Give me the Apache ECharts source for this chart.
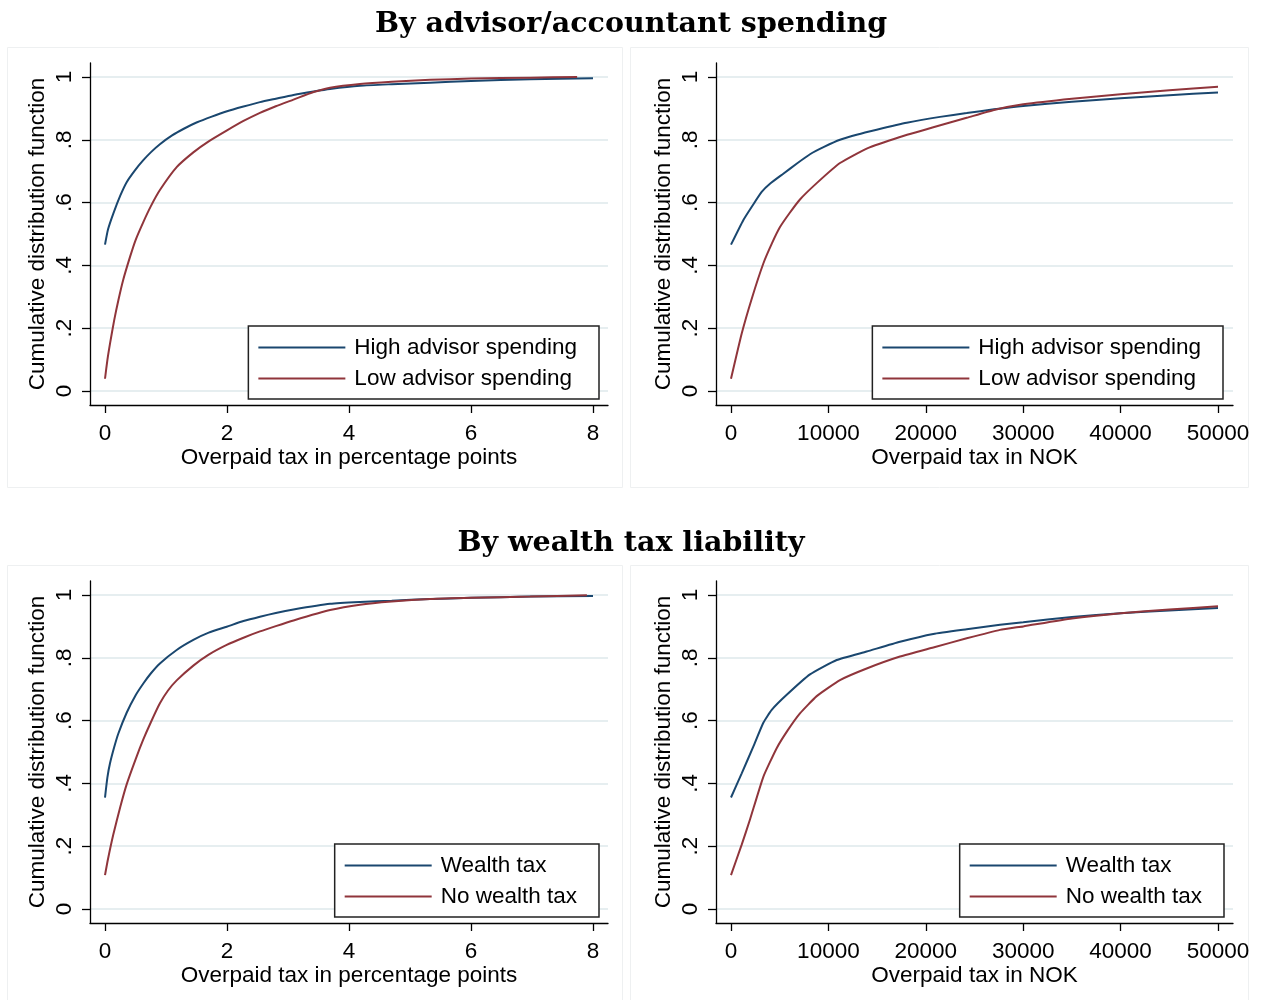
<!DOCTYPE html>
<html><head><meta charset="utf-8">
<script src="https://cdn.jsdelivr.net/npm/echarts@6/dist/echarts.min.js"></script>
<style>html,body{margin:0;padding:0;background:#fff}#c{width:1262px;height:1000px}</style>
</head><body><div id="c"></div>
<script>
// ---------- text ----------
const sectionTitles = ['By advisor/accountant spending', 'By wealth tax liability'];
const yAxisTitle = 'Cumulative distribution function';
const xAxisTitles = ['Overpaid tax in percentage points', 'Overpaid tax in NOK'];
const legendNames1 = ['High advisor spending', 'Low advisor spending'];
const legendNames2 = ['Wealth tax', 'No wealth tax'];

// ---------- ticks ----------
const yTickValues = [0, 0.2, 0.4, 0.6, 0.8, 1];
const yTickLabels = ['0', '.2', '.4', '.6', '.8', '1'];
const pctTicks = [0, 2, 4, 6, 8];
const nokTicks = [0, 10000, 20000, 30000, 40000, 50000];

// ---------- panel 1: by advisor spending, percentage points ----------
const p1HighX = [0, 0.05, 0.136, 0.25, 0.355, 0.5, 0.628, 0.75, 0.9, 1.1, 1.3, 1.5, 1.75, 2.0, 2.27, 2.54, 2.8, 3.09, 3.42, 3.69, 4.18, 4.7, 5.33, 6.0, 6.97, 8.0];
const p1HighY = [0.466, 0.515, 0.565, 0.622, 0.665, 0.705, 0.735, 0.760, 0.786, 0.814, 0.836, 0.855, 0.874, 0.891, 0.906, 0.920, 0.931, 0.943, 0.954, 0.962, 0.972, 0.977, 0.982, 0.987, 0.993, 0.996];
const p1LowX = [0, 0.04, 0.082, 0.15, 0.219, 0.3, 0.41, 0.5, 0.628, 0.75, 0.9, 1.175, 1.448, 1.7, 2.0, 2.27, 2.54, 2.8, 3.09, 3.42, 3.69, 4.18, 4.7, 5.33, 6.0, 6.97, 7.74];
const p1LowY = [0.039, 0.10, 0.151, 0.225, 0.289, 0.355, 0.427, 0.480, 0.538, 0.588, 0.640, 0.713, 0.760, 0.795, 0.830, 0.860, 0.886, 0.907, 0.928, 0.952, 0.966, 0.978, 0.985, 0.991, 0.995, 0.998, 1.0];

// ---------- panel 2: by advisor spending, NOK ----------
const p2HighX = [0, 1260, 2200, 3150, 4000, 5370, 6700, 8110, 9600, 11190, 13000, 14960, 18040, 21460, 24200, 27000, 30000, 35000, 40000, 45000, 50000];
const p2HighY = [0.466, 0.544, 0.59, 0.634, 0.660, 0.692, 0.723, 0.754, 0.778, 0.800, 0.817, 0.832, 0.854, 0.873, 0.885, 0.897, 0.908, 0.921, 0.932, 0.942, 0.951];
const p2LowX = [0, 1100, 2130, 3320, 4200, 5030, 6000, 7080, 8800, 11190, 13930, 17350, 20770, 24200, 27000, 30000, 35000, 40000, 45000, 50000];
const p2LowY = [0.039, 0.183, 0.294, 0.406, 0.470, 0.522, 0.566, 0.610, 0.662, 0.726, 0.772, 0.809, 0.840, 0.870, 0.895, 0.913, 0.931, 0.945, 0.958, 0.969];

// ---------- panel 3: by wealth tax, percentage points ----------
const p3WealthX = [0, 0.04, 0.082, 0.15, 0.219, 0.355, 0.5, 0.628, 0.75, 0.9, 1.175, 1.448, 1.7, 1.995, 2.27, 2.54, 2.8, 3.09, 3.69, 4.18, 4.7, 5.33, 6.0, 6.97, 8.0];
const p3WealthY = [0.355, 0.42, 0.464, 0.515, 0.559, 0.625, 0.680, 0.718, 0.750, 0.782, 0.825, 0.857, 0.880, 0.899, 0.917, 0.931, 0.943, 0.954, 0.972, 0.978, 0.982, 0.987, 0.991, 0.995, 0.997];
const p3NoWealthX = [0, 0.05, 0.136, 0.25, 0.355, 0.5, 0.628, 0.75, 0.9, 1.03, 1.175, 1.448, 1.7, 1.995, 2.27, 2.54, 2.8, 3.09, 3.69, 4.18, 4.7, 5.33, 6.0, 6.97, 7.9];
const p3NoWealthY = [0.108, 0.16, 0.237, 0.325, 0.397, 0.476, 0.540, 0.594, 0.655, 0.695, 0.728, 0.775, 0.810, 0.841, 0.864, 0.884, 0.901, 0.919, 0.952, 0.969, 0.979, 0.987, 0.991, 0.995, 0.999];

// ---------- panel 4: by wealth tax, NOK ----------
const p4WealthX = [0, 1100, 2290, 3320, 4180, 5720, 8110, 10850, 13930, 17350, 20770, 24200, 27620, 30000, 35000, 40000, 45000, 50000];
const p4WealthY = [0.355, 0.432, 0.517, 0.593, 0.634, 0.682, 0.747, 0.793, 0.820, 0.851, 0.876, 0.891, 0.905, 0.913, 0.930, 0.942, 0.951, 0.959];
const p4NoWealthX = [0, 1100, 1950, 3320, 4690, 5800, 7080, 8800, 11190, 13930, 17350, 20770, 24200, 27620, 30000, 35000, 40000, 45000, 50000];
const p4NoWealthY = [0.108, 0.205, 0.285, 0.421, 0.512, 0.568, 0.623, 0.678, 0.729, 0.766, 0.804, 0.833, 0.862, 0.889, 0.900, 0.925, 0.942, 0.954, 0.964];

// ---------- styling ----------
const BLUE = '#1a476f', RED = '#90353b';
const SANS = '"Liberation Sans", Arial, sans-serif';
const SERIF = '"DejaVu Serif", "Liberation Serif", serif';
const FS = 22.5;

const pairs = (xs, ys) => xs.map((x, i) => [x, ys[i]]);

const grids = [
  { left: 90, top: 63, width: 518, height: 342 },
  { left: 716, top: 63, width: 517, height: 342 },
  { left: 90, top: 581, width: 518, height: 342 },
  { left: 716, top: 581, width: 517, height: 342 }
];

function xAxis(gi, pct) {
  const ticks = pct ? pctTicks : nokTicks;
  return {
    type: 'value', gridIndex: gi,
    min: pct ? -0.246 : -1540, max: pct ? 8.246 : 51540,
    name: pct ? xAxisTitles[0] : xAxisTitles[1],
    nameLocation: 'middle', nameGap: 41,
    nameTextStyle: { fontFamily: SANS, fontSize: FS, color: '#000' },
    axisLine: { onZero: false, lineStyle: { color: '#000', width: 1.3 } },
    axisTick: { show: true, customValues: ticks, length: 8, lineStyle: { color: '#000', width: 1.3 } },
    axisLabel: { customValues: ticks, margin: 17, fontFamily: SANS, fontSize: FS, color: '#000', formatter: v => String(v) },
    splitLine: { show: false }
  };
}
function yAxis(gi) {
  return {
    type: 'value', gridIndex: gi, min: -0.0446, max: 1.0446,
    name: yAxisTitle, nameLocation: 'middle', nameGap: 41,
    nameTextStyle: { fontFamily: SANS, fontSize: FS, color: '#000' },
    axisLine: { show: true, onZero: false, lineStyle: { color: '#000', width: 1.3 } },
    axisTick: { show: true, customValues: yTickValues, length: 8, lineStyle: { color: '#000', width: 1.3 } },
    axisLabel: {
      customValues: yTickValues, rotate: 90, margin: 14,
      fontFamily: SANS, fontSize: FS, color: '#000',
      formatter: v => { const i = yTickValues.findIndex(t => Math.abs(t - v) < 1e-6); return i >= 0 ? yTickLabels[i] : ''; }
    },
    splitLine: { show: true, lineStyle: { color: '#e6eef0', width: 2 } }
  };
}
function line(name, gi, data, color, smooth) {
  return {
    type: 'line', name, xAxisIndex: gi, yAxisIndex: gi, data,
    showSymbol: false, symbol: 'none', smooth, color,
    lineStyle: { color, width: 2 }, emphasis: { disabled: true }, silent: true, z: 3
  };
}
function legend(names, right, top) {
  return {
    data: names, orient: 'vertical', right, top,
    icon: 'rect', itemWidth: 87, itemHeight: 2, itemGap: 8,
    padding: [10, 22, 9, 10],
    backgroundColor: '#fff', borderColor: '#222', borderWidth: 1.5, borderRadius: 0,
    textStyle: { fontFamily: SANS, fontSize: FS, color: '#000', padding: [0, 0, 0, 4] },
    selectedMode: false
  };
}

const panelBox = (x, y, w, h) => ({ type: 'rect', shape: { x, y, width: w, height: h }, style: { fill: 'none', stroke: '#eef0f1', lineWidth: 1 }, z: -10, silent: true });

const option = {
  backgroundColor: '#fff',
  animation: false,
  title: [
    { text: sectionTitles[0], left: 'center', top: 5, textStyle: { fontFamily: SERIF, fontWeight: 'bold', fontSize: 28.5, color: '#000' } },
    { text: sectionTitles[1], left: 'center', top: 524, textStyle: { fontFamily: SERIF, fontWeight: 'bold', fontSize: 28.5, color: '#000' } }
  ],
  graphic: [
    panelBox(7.5, 47.5, 615, 440),
    panelBox(630.5, 47.5, 618, 440),
    panelBox(7.5, 565.5, 615, 440),
    panelBox(630.5, 565.5, 618, 440)
  ],
  grid: grids,
  xAxis: [xAxis(0, true), xAxis(1, false), xAxis(2, true), xAxis(3, false)],
  yAxis: [yAxis(0), yAxis(1), yAxis(2), yAxis(3)],
  legend: [
    legend(legendNames1, 663, 326),
    legend(legendNames1, 39, 326),
    legend(legendNames2, 663, 844),
    legend(legendNames2, 38, 844)
  ],
  series: [
    line(legendNames1[0], 0, pairs(p1HighX, p1HighY), BLUE, 0.2),
    line(legendNames1[1], 0, pairs(p1LowX, p1LowY), RED, 0.2),
    line(legendNames1[0], 1, pairs(p2HighX, p2HighY), BLUE, 0.15),
    line(legendNames1[1], 1, pairs(p2LowX, p2LowY), RED, 0.15),
    line(legendNames2[0], 2, pairs(p3WealthX, p3WealthY), BLUE, 0.2),
    line(legendNames2[1], 2, pairs(p3NoWealthX, p3NoWealthY), RED, 0.2),
    line(legendNames2[0], 3, pairs(p4WealthX, p4WealthY), BLUE, 0.15),
    line(legendNames2[1], 3, pairs(p4NoWealthX, p4NoWealthY), RED, 0.15)
  ]
};
const chart = echarts.init(document.getElementById('c'), null, { renderer: 'canvas' });
chart.setOption(option);
</script>
</body></html>
